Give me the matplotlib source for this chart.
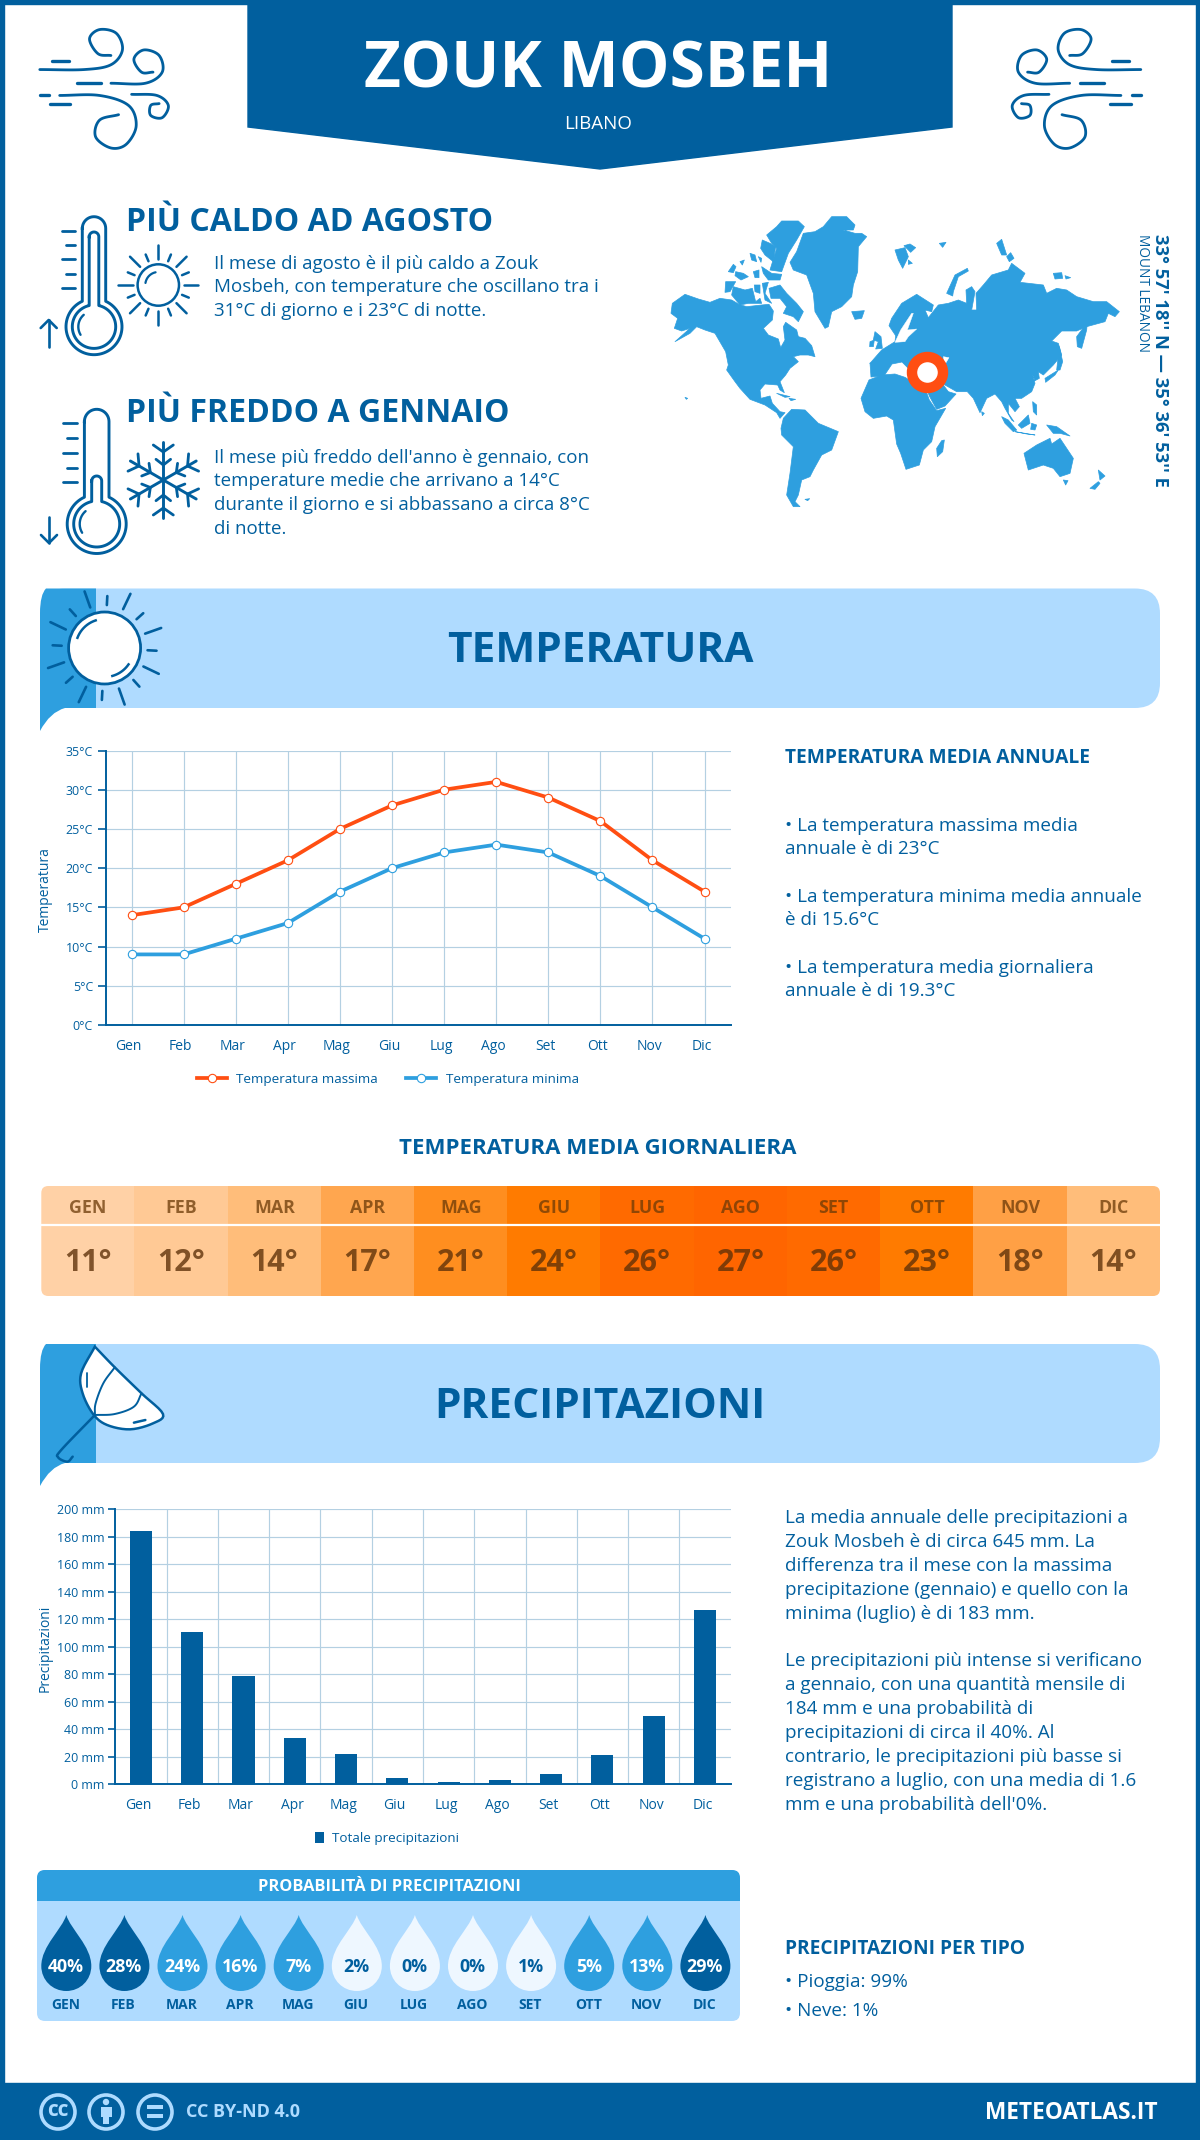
import numpy as np
import matplotlib
matplotlib.use("Agg")
import matplotlib.pyplot as plt
from matplotlib.patches import Polygon, Rectangle, PathPatch, FancyBboxPatch, Circle
from matplotlib.path import Path
from matplotlib.transforms import ScaledTranslation

plt.rcParams['font.family'] = ['Open Sans', 'DejaVu Sans']

# ---------- data ----------
months = ['Gen', 'Feb', 'Mar', 'Apr', 'Mag', 'Giu', 'Lug', 'Ago', 'Set', 'Ott', 'Nov', 'Dic']
temp_max = [14, 15, 18, 21, 25, 28, 30, 31, 29, 26, 21, 17]
temp_min = [9, 9, 11, 13, 17, 20, 22, 23, 22, 19, 15, 11]
temp_daily = [11, 12, 14, 17, 21, 24, 26, 27, 26, 23, 18, 14]
precip = [184, 111, 78.5, 33.5, 22, 4.5, 1.6, 3, 7.5, 21, 49.5, 127]
rain_prob = [40, 28, 24, 16, 7, 2, 0, 0, 1, 5, 13, 29]

heat_colors = ['#FFD1A6', '#FFC995', '#FFBD7A', '#FFA64F', '#FF8E1F', '#FF7B00',
               '#FF6A00', '#FF6500', '#FF6A00', '#FF7B00', '#FFA045', '#FFBD7A']

DARK = '#015F9E'
MID = '#2E9FDF'
LIGHT = '#AFDBFF'
ORANGE = '#FF4E12'
GRID = '#B4D0E2'

W, H = 1200, 2140
fig = plt.figure(figsize=(W / 100, H / 100), dpi=100, facecolor='white')
ov = fig.add_axes([0, 0, 1, 1], zorder=1)
ov.set_xlim(0, W)
ov.set_ylim(H, 0)
ov.axis('off')


def ax_px(x0, y0, x1, y1, z=3):
    a = fig.add_axes([x0 / W, 1 - y1 / H, (x1 - x0) / W, (y1 - y0) / H], zorder=z)
    a.patch.set_alpha(0)
    return a


def T(x, y, s, size, color=DARK, weight='normal', ha='left', va='center', rot=0, z=6, **kw):
    if rot == 0:
        y = y + 0.1 * size
    return ov.text(x, y, s, fontsize=size, color=color, fontweight=weight, ha=ha, va=va,
                   rotation=rot, zorder=z, **kw)


def smooth(pts, n=14):
    p = np.array(pts, float)
    p = np.vstack([2 * p[0] - p[1], p, 2 * p[-1] - p[-2]])
    out = []
    for i in range(1, len(p) - 2):
        t = np.linspace(0, 1, n, endpoint=False)[:, None]
        a, b, c, d = p[i - 1], p[i], p[i + 1], p[i + 2]
        out.append(0.5 * (2 * b + (c - a) * t + (2 * a - 5 * b + 4 * c - d) * t ** 2 + (3 * b - a - 3 * c + d) * t ** 3))
    out.append(p[-2][None, :])
    return np.vstack(out)


def L(pts, lw=1.8, c=DARK, sm=False, z=5):
    a = smooth(pts) if sm else np.array(pts, float)
    ov.plot(a[:, 0], a[:, 1], color=c, lw=lw, solid_capstyle='round', zorder=z)


# ---------- frame ----------
ov.add_patch(Rectangle((0, 0), 3.7, H, color=DARK, zorder=2))
ov.add_patch(Rectangle((W - 3.7, 0), 3.7, H, color=DARK, zorder=2))
ov.add_patch(Rectangle((0, 0), W, 3.7, color=DARK, zorder=2))
ov.add_patch(Rectangle((0, 2083), W, 57, color=DARK, zorder=2))

# ---------- header ----------
ov.add_patch(Polygon([(248, 0), (952, 0), (952, 127), (600, 169), (248, 127)], color=DARK, zorder=2))
T(598, 66, 'ZOUK MOSBEH', 46, 'white', 'bold', 'center')
T(598, 123, 'LIBANO', 13.5, 'white', 'normal', 'center')


def wind(mirror=False):
    def m(pts):
        pts = [(x / 1.307, y / 2.703) for x, y in pts]
        return [(1180.6 - x, y) for x, y in pts] if mirror else pts
    L(m([(52, 188), (110, 188), (145, 175), (160, 135), (152, 90), (130, 80), (117, 105), (128, 145), (145, 150)]), 2, sm=True)
    L(m([(145, 225), (190, 225), (212, 195), (208, 150), (188, 135), (175, 160), (185, 195), (200, 195)]), 2, sm=True)
    L(m([(100, 225), (132, 225)]), 2.4)
    L(m([(68, 166), (90, 166)]), 2.4)
    L(m([(52, 258), (64, 258)]), 2.4)
    L(m([(78, 258), (130, 258), (168, 285), (178, 340), (165, 390), (145, 400), (125, 370), (130, 325), (155, 310)]), 2, sm=True)
    L(m([(65, 282), (92, 282)]), 2.4)
    L(m([(172, 255), (205, 258), (220, 285), (212, 318), (197, 312), (197, 285), (208, 280)]), 2, sm=True)


wind(False)
wind(True)


# ---------- thermometers ----------
def contour(cx, top, by, r, hw):
    a0 = np.arcsin(hw / r)
    th = np.linspace(np.pi, 0, 24)
    phi = np.linspace(a0, 2 * np.pi - a0, 70)
    xs = np.r_[cx + hw * np.cos(th), cx + r * np.sin(phi)]
    ys = np.r_[top + hw - hw * np.sin(th), by - r * np.cos(phi)]
    return np.r_[xs, xs[0]], np.r_[ys, ys[0]]


def thermo(cx, top, by, r, hw, mtop, ihw, ir, ticks, x0, x1, arrow_x, ay0, ay1, up):
    ov.plot(*contour(cx, top, by, r, hw), color=DARK, lw=2.1, zorder=5)
    ov.plot(*contour(cx, mtop, by, ir, ihw), color=DARK, lw=2.1, zorder=5)
    g = np.linspace(2.6, 4.0, 12)
    ov.plot(cx + (ir - 6) * np.cos(g), by + (ir - 6) * np.sin(g), color=DARK, lw=1.7, solid_capstyle='round', zorder=5)
    for i, ty in enumerate(ticks):
        L([(x0 + (3.4 if i % 2 else 0), ty), (x1, ty)], 2.0)
    L([(arrow_x, ay0), (arrow_x, ay1)], 1.9)
    tip, d = (ay0, 8) if up else (ay1, -8)
    L([(arrow_x - 8, tip + d), (arrow_x, tip), (arrow_x + 8, tip + d)], 1.9)


thermo(94, 216.7, 326.7, 28, 11.7, 232, 4.8, 21.7, [230.7, 245, 259.3, 273.7, 287.7], 62.3, 75, 48.7, 320, 346.7, True)
thermo(96.7, 409.3, 524, 29.5, 12.3, 476, 5, 23, [423.3, 438.3, 452.7, 467.7, 482.3], 63.3, 76.7, 49, 516.7, 543, False)

# small sun
ov.add_patch(Circle((158.3, 285), 20.7, fc='white', ec=DARK, lw=1.8, zorder=5))
ov.plot(158.3 + 13 * np.cos(np.linspace(3.3, 4.5, 10)), 285 + 13 * np.sin(np.linspace(3.3, 4.5, 10)), color=DARK, lw=1.6, solid_capstyle='round', zorder=5)
for i, deg in enumerate(np.arange(0, 360, 22.5)):
    a = np.deg2rad(deg)
    r1 = 40 if i % 2 == 0 else 33
    L([(158.3 + 25.7 * np.cos(a), 285 + 25.7 * np.sin(a)), (158.3 + r1 * np.cos(a), 285 + r1 * np.sin(a))], 1.8)

# snowflake
for deg in range(30, 390, 60):
    a = np.deg2rad(deg)
    c, s = np.cos(a), np.sin(a)
    nx, ny = -s, c
    L([(163.3, 480), (163.3 + 38 * c, 480 + 38 * s)], 2.1)
    for d, dt, off in [(28, 35, 10), (15, 20.7, 7.3)]:
        for sg in (-1, 1):
            L([(163.3 + d * c, 480 + d * s), (163.3 + dt * c + sg * off * nx, 480 + dt * s + sg * off * ny)], 2.0)

# top text
T(126, 220, 'PIÙ CALDO AD AGOSTO', 23, DARK, 'bold')
for y, s in zip([263, 286, 310],
                ['Il mese di agosto è il più caldo a Zouk',
                 'Mosbeh, con temperature che oscillano tra i',
                 '31°C di giorno e i 23°C di notte.']):
    T(214.5, y, s, 13.5)
T(126, 411, 'PIÙ FREDDO A GENNAIO', 23, DARK, 'bold')
for y, s in zip([457, 480, 504, 528],
                ["Il mese più freddo dell'anno è gennaio, con",
                 'temperature medie che arrivano a 14°C',
                 'durante il giorno e si abbassano a circa 8°C',
                 'di notte.']):
    T(214.5, y, s, 13.5)


# ---------- world map (outline sketch) ----------
def crop(ox, oy):
    return lambda pts: [(ox + x / 3, oy + y / 3) for x, y in pts]


A, B, C_, D = crop(665, 205), crop(880, 205), crop(665, 370), crop(880, 370)
land = [
    # North America
    A([(22, 295), (60, 268), (100, 282), (135, 292), (165, 280), (200, 285), (222, 298), (245, 305), (290, 300), (312, 298), (325, 318), (322, 345), (295, 370), (310, 390), (340, 402), (347, 428), (360, 405), (355, 365), (362, 352), (395, 375), (400, 395), (420, 400), (440, 422), (450, 455), (430, 450), (405, 450), (385, 455), (400, 470), (375, 490), (362, 510)])
    + C_([(345, 35), (358, 68), (345, 60), (338, 45), (300, 42), (285, 60), (288, 85), (315, 78), (322, 100), (345, 125), (360, 128), (345, 145), (335, 128), (300, 105), (255, 88), (225, 55), (210, 35), (185, 0)])
    + A([(190, 480), (182, 440), (150, 385), (120, 375), (95, 365), (75, 385), (30, 410), (75, 370), (50, 378), (28, 370), (38, 340), (18, 325)]),
    # Arctic islands
    A([(312, 250), (345, 240), (365, 265), (395, 295), (415, 320), (400, 350), (385, 335), (355, 325), (365, 305), (345, 280), (318, 280)]),
    A([(205, 245), (240, 255), (262, 250), (272, 290), (285, 280), (290, 295), (250, 295), (225, 300), (200, 270)]),
    A([(182, 230), (212, 230), (195, 260), (180, 262)]),
    A([(268, 240), (285, 240), (285, 265), (270, 260)]),
    A([(292, 235), (310, 232), (300, 265), (320, 295), (300, 285)]),
    A([(190, 200), (205, 178), (213, 185), (205, 203)]),
    A([(212, 200), (235, 205), (250, 215), (228, 225), (210, 212)]),
    A([(265, 200), (282, 195), (282, 218), (270, 218)]),
    A([(290, 185), (320, 205), (350, 208), (345, 225), (310, 225), (295, 205)]),
    A([(292, 105), (315, 115), (332, 125), (325, 170), (300, 150), (287, 130)]),
    A([(305, 90), (335, 65), (350, 48), (400, 48), (418, 65), (395, 105), (370, 145), (350, 200), (315, 195), (335, 130), (320, 115)]),
    A([(255, 145), (270, 150), (275, 170), (260, 165)]),
    A([(225, 170), (238, 165), (232, 180)]),
    A([(280, 155), (290, 160), (288, 172)]),
    # Greenland, Iceland, British Isles
    A([(475, 65), (500, 35), (545, 35), (570, 60), (565, 75), (535, 75), (570, 85), (590, 85), (605, 95), (580, 125), (578, 200), (565, 240), (560, 275), (530, 305), (500, 320), (490, 365), (480, 370), (450, 320), (445, 265), (425, 210), (385, 195), (375, 172), (395, 140), (415, 85), (450, 80)]),
    A([(560, 320), (598, 317), (590, 340), (570, 343)]),
    A([(630, 380), (648, 395), (652, 430), (632, 432), (640, 410), (625, 405)]),
    A([(615, 410), (628, 405), (625, 425), (614, 425)]),
    # Svalbard and northern islands
    B([(45, 135), (75, 128), (85, 155), (68, 190), (55, 165)]),
    B([(72, 122), (90, 117), (107, 128), (92, 142)]),
    B([(85, 165), (97, 175), (85, 178)]),
    B([(178, 115), (198, 112), (188, 127)]),
    B([(350, 115), (365, 103), (380, 150), (365, 150)]),
    B([(380, 155), (392, 143), (402, 160), (388, 170)]),
    B([(200, 265), (225, 210), (262, 190), (265, 198), (235, 215), (220, 260), (218, 273)]),
    B([(520, 205), (545, 203), (548, 220), (525, 222)]),
    B([(555, 212), (572, 218), (558, 222)]),
    # Eurasia
    A([(615, 475), (650, 435), (690, 410), (692, 392), (672, 362), (680, 340)])
    + B([(65, 295), (110, 268), (160, 300), (155, 320), (135, 315), (145, 338), (175, 300), (205, 295), (235, 285), (260, 295), (258, 255), (275, 245), (285, 260), (275, 315), (290, 315), (288, 265), (310, 240), (335, 210), (385, 195), (395, 175), (435, 205), (420, 232), (490, 240), (500, 265), (530, 250), (560, 255), (590, 275), (640, 290), (680, 290), (718, 320), (705, 335), (685, 325), (675, 350), (620, 365), (590, 378), (545, 378), (515, 408), (535, 415), (545, 450), (520, 480), (490, 510)])
    + D([(475, 5), (478, 25), (465, 32), (458, 15), (465, 40), (455, 65), (425, 85), (405, 85), (418, 110), (405, 125), (385, 100), (385, 130), (402, 155), (395, 150), (375, 115), (365, 95), (345, 72), (320, 85), (300, 128), (280, 85), (262, 65), (230, 65), (195, 45), (150, 10)])
    + [(922, 380), (908, 368), (902, 362), (892, 364), (884, 376), (871, 377), (870, 363)],
    # Africa + Arabia
    C_([(588, 85), (612, 30), (650, 15), (690, 12), (720, 22)])
    + D([(80, 25), (140, 68), (148, 90), (170, 122), (197, 115), (165, 170), (155, 215), (130, 240), (118, 285), (78, 298), (62, 250), (50, 222), (40, 150)])
    + C_([(665, 138), (625, 145), (600, 125)]),
    D([(130, 30), (190, 45), (205, 65), (228, 72), (195, 108), (170, 118), (148, 78)]),
    D([(185, 212), (193, 210), (188, 245), (172, 260), (170, 235)]),
    # East Asia and Oceania
    B([(622, 352), (620, 375), (605, 430), (592, 425), (590, 395)]),
    D([(535, 0), (495, 25), (497, 37), (525, 15)]),
    B([(538, 425), (548, 470), (540, 495), (530, 495)]),
    D([(365, 140), (385, 150), (410, 180), (400, 185), (375, 160)]),
    D([(405, 185), (465, 195), (440, 192)]),
    D([(415, 165), (445, 135), (450, 160), (425, 175)]),
    D([(455, 160), (470, 165), (465, 180), (452, 178)]),
    D([(500, 165), (530, 170), (570, 198), (540, 190), (520, 190)]),
    D([(458, 95), (470, 105), (470, 135), (460, 125)]),
    D([(305, 125), (313, 130), (307, 137)]),
    D([(432, 250), (470, 225), (510, 205), (515, 222), (540, 205), (580, 265), (570, 310), (540, 320), (520, 295), (490, 285), (445, 300)]),
    D([(550, 330), (564, 332), (557, 345)]),
    D([(655, 300), (675, 318), (660, 330)]),
    D([(630, 355), (655, 335), (660, 340), (645, 358)]),
    # South America and small islands
    C_([(348, 175), (355, 145), (380, 118), (420, 120), (460, 160), (520, 185), (500, 240), (470, 255), (445, 300), (435, 320), (410, 330), (400, 375), (390, 395), (405, 410), (385, 410), (365, 375), (375, 310), (385, 230), (350, 195)]),
    C_([(420, 388), (434, 386), (428, 392)]),
    C_([(335, 70), (375, 80), (360, 82)]),
    C_([(372, 85), (392, 88), (378, 92)]),
    C_([(60, 82), (68, 85), (64, 88)]),
]
sea = [
    B([(95, 325), (100, 325), (82, 375), (110, 372), (85, 395), (75, 410), (45, 412), (62, 375)]),
    B([(190, 455), (207, 458), (195, 478), (202, 495), (195, 500)]),
]
for poly in land:
    ov.add_patch(Polygon(poly, fc=MID, ec=MID, lw=0.5, joinstyle='round', zorder=2))
for poly in sea:
    ov.add_patch(Polygon(poly, fc='white', ec='white', lw=0.3, zorder=3))
ov.add_patch(Circle((927.5, 372.5), 15.5, fc='white', ec=ORANGE, lw=7.5, zorder=4))
T(1160, 360, "33° 57' 18'' N — 35° 36' 53'' E", 13.2, DARK, 'bold', 'center', 'center', rot=-90)
T(1142.5, 293, 'MOUNT LEBANON', 9.8, DARK, 'normal', 'center', 'center', rot=-90)


# ---------- banners ----------
def banner(y0, y1, tail):
    r = 25
    ov.add_patch(FancyBboxPatch((40, y0), 1120, y1 - y0, boxstyle='round,pad=0,rounding_size=%d' % r,
                                fc=LIGHT, ec='none', zorder=2))
    v = [(40, y0 + r), (40, y0 + 6), (46, y0), (40 + r, y0), (96, y0), (96, y1), (40 + r, y1), (50, y1 + 4), (40, tail), (40, y0 + r)]
    c = [Path.MOVETO, Path.CURVE3, Path.CURVE3, Path.LINETO, Path.LINETO, Path.LINETO, Path.LINETO, Path.CURVE3, Path.CURVE3, Path.CLOSEPOLY]
    ov.add_patch(PathPatch(Path(v, c), fc=MID, ec='none', zorder=3))


banner(588.5, 708, 731)
banner(1344, 1463, 1486)
T(600, 648, 'TEMPERATURA', 30.5, DARK, 'bold', 'center')
T(600, 1404, 'PRECIPITAZIONI', 30.5, DARK, 'bold', 'center')

# banner sun
ov.add_patch(Circle((104.6, 648), 36, fc='white', ec=DARK, lw=2, zorder=5))
ang = np.linspace(3.5, 4.4, 12)
ov.plot(104.6 + 29 * np.cos(ang), 648 + 29 * np.sin(ang), color=DARK, lw=1.8, zorder=6)
ang = np.linspace(0.6, 1.3, 12)
ov.plot(104.6 + 29 * np.cos(ang), 648 + 29 * np.sin(ang), color=DARK, lw=1.8, zorder=6)
for i, deg in enumerate(np.arange(0, 360, 22.5)):
    a = np.deg2rad(deg + 3)
    r0, r1 = (43, 60) if i % 2 == 1 else (43, 52)
    L([(104.6 + r0 * np.cos(a), 648 + r0 * np.sin(a)), (104.6 + r1 * np.cos(a), 648 + r1 * np.sin(a))], 1.9)


# umbrella
def up(pts):
    return [(x / 1.307, y / 3 + 1120) for x, y in pts]


ub = smooth(up([(124, 680), (150, 742), (185, 820), (213, 882), (200, 910), (170, 928), (140, 915), (122, 883), (108, 820), (106, 760), (124, 680)]), 6)
ov.add_patch(Polygon(ub, fc='white', ec=DARK, lw=1.8, zorder=5))
L(up([(150, 742), (135, 790), (125, 850), (124, 885)]), 1.4, sm=True, z=6)
L(up([(185, 820), (175, 860), (150, 882), (124, 885)]), 1.4, sm=True, z=6)
L(up([(124, 885), (80, 990), (76, 1012), (88, 1025), (95, 1010)]), 1.8, sm=True)
L(up([(114, 760), (114, 800)]), 1.3, z=6)
L(up([(175, 908), (190, 900)]), 1.8, z=6)

# ---------- temperature chart ----------
ax = ax_px(105.6, 750.5, 730.6, 1025)
x = np.arange(12)
l1, = ax.plot(x, temp_max, color=ORANGE, lw=2.7, marker='o', ms=6, mfc='white', mec=ORANGE, mew=0.8, label='Temperatura massima', clip_on=False, zorder=4)
l2, = ax.plot(x, temp_min, color=MID, lw=2.7, marker='o', ms=6, mfc='white', mec=MID, mew=0.8, label='Temperatura minima', clip_on=False, zorder=4)
ax.set_xlim(-0.5, 11.5)
ax.set_ylim(0, 35)
ax.set_yticks(range(0, 36, 5))
ax.set_yticklabels(['%d°C' % v for v in range(0, 36, 5)])
ax.set_xticks(x)
ax.set_xticklabels(months)
ax.set_ylabel('Temperatura', fontsize=10, color=DARK)
ax.yaxis.set_label_coords((53 - 105.6) / 625, 0.495)
ax.grid(True, color=GRID, lw=0.85)
ax.set_axisbelow(True)
for s in ('top', 'right'):
    ax.spines[s].set_visible(False)
for s in ('left', 'bottom'):
    ax.spines[s].set_color(DARK)
    ax.spines[s].set_linewidth(1.4)
ax.tick_params(axis='y', length=6, width=1.2, color=DARK, labelcolor=DARK, labelsize=8.9, pad=3)
ax.tick_params(axis='x', length=0, labelcolor=DARK, labelsize=10, pad=10)
for lb in ax.get_xticklabels():
    lb.set_transform(lb.get_transform() + ScaledTranslation(-0.03, 0, fig.dpi_scale_trans))
ax.legend(handles=[l1, l2], loc='center', bbox_to_anchor=(388 / W, 1 - 1079.6 / H), bbox_transform=fig.transFigure,
          ncol=2, frameon=False, numpoints=1, handlelength=2.2, handletextpad=0.7, columnspacing=2.1,
          labelcolor=DARK, prop={'size': 9.7})

# right text temperature
T(785, 757, 'TEMPERATURA MEDIA ANNUALE', 13.8, DARK, 'bold')
for y, s in zip([825, 848, 896, 919, 967, 990],
                ['• La temperatura massima media', 'annuale è di 23°C',
                 '• La temperatura minima media annuale', 'è di 15.6°C',
                 '• La temperatura media giornaliera', 'annuale è di 19.3°C']):
    T(785, y, s, 13.6)

# ---------- daily temperature strip ----------
T(598, 1147, 'TEMPERATURA MEDIA GIORNALIERA', 16, DARK, 'bold', 'center')
hx = ax_px(41.3, 1186, 1160, 1296)
hx.set_xlim(-0.5, 11.5)
hx.set_ylim(0, 1)
hx.axis('off')
bars = hx.bar(x, [1] * 12, width=1.005, color=heat_colors, linewidth=0)
clip = FancyBboxPatch((41.3, 1186), 1118.7, 110, boxstyle='round,pad=0,rounding_size=7', transform=ov.transData, fc='none', ec='none')
ov.add_patch(clip)
for b in bars:
    b.set_clip_path(clip)
hx.axhline((1296 - 1225) / 110, color='white', lw=1.6)
for i, (m, v) in enumerate(zip(months, temp_daily)):
    hx.text(i, (1296 - 1208) / 110, m.upper(), fontsize=12.8, fontweight='bold', color='#6B3A08', alpha=0.75, ha='center', va='center')
    hx.text(i, (1296 - 1263) / 110, '%d°' % v, fontsize=22, fontweight='bold', color='#5C3008', alpha=0.78, ha='center', va='center')

# ---------- precipitation chart ----------
px = ax_px(115.3, 1509.3, 730.6, 1784.3)
bb = px.bar(x, precip, width=0.43, color=DARK, label='Totale precipitazioni', zorder=3)
px.set_xlim(-0.5, 11.5)
px.set_ylim(0, 200)
px.set_yticks(range(0, 201, 20))
px.set_yticklabels(['%d mm' % v for v in range(0, 201, 20)])
px.set_xticks(x)
px.set_xticklabels(months)
px.set_xticks(np.arange(0.5, 11.5, 1), minor=True)
px.grid(True, axis='y', color=GRID, lw=0.85)
px.grid(True, axis='x', which='minor', color=GRID, lw=0.85)
px.grid(False, axis='x', which='major')
px.set_axisbelow(True)
px.set_ylabel('Precipitazioni', fontsize=10, color=DARK)
px.yaxis.set_label_coords((53 - 115.3) / 615.3, 0.496)
for s in ('top', 'right'):
    px.spines[s].set_visible(False)
for s in ('left', 'bottom'):
    px.spines[s].set_color(DARK)
    px.spines[s].set_linewidth(1.4)
px.tick_params(axis='y', length=5, width=1.2, color=DARK, labelcolor=DARK, labelsize=8.9, pad=3)
px.tick_params(axis='x', which='major', length=0, labelcolor=DARK, labelsize=10, pad=10)
px.tick_params(axis='x', which='minor', length=0)
for lb in px.get_xticklabels():
    lb.set_transform(lb.get_transform() + ScaledTranslation(-0.025, 0, fig.dpi_scale_trans))
px.legend(handles=[bb], loc='center', bbox_to_anchor=(387 / W, 1 - 1838.7 / H), bbox_transform=fig.transFigure,
          frameon=False, handlelength=0.6, handleheight=0.8, handletextpad=0.6, labelcolor=DARK, prop={'size': 9.7})

# right text precip
para = [(1517, 'La media annuale delle precipitazioni a'), (1541, 'Zouk Mosbeh è di circa 645 mm. La'),
        (1565, 'differenza tra il mese con la massima'), (1589, 'precipitazione (gennaio) e quello con la'),
        (1613, 'minima (luglio) è di 183 mm.'),
        (1660, 'Le precipitazioni più intense si verificano'), (1684, 'a gennaio, con una quantità mensile di'),
        (1708, '184 mm e una probabilità di'), (1732, 'precipitazioni di circa il 40%. Al'),
        (1756, 'contrario, le precipitazioni più basse si'), (1780, 'registrano a luglio, con una media di 1.6'),
        (1804, "mm e una probabilità dell'0%.")]
for y, s in para:
    T(785, y, s, 13.6)
T(785, 1948, 'PRECIPITAZIONI PER TIPO', 13.8, DARK, 'bold')
T(785, 1981, '• Pioggia: 99%', 13.6)
T(785, 2010, '• Neve: 1%', 13.6)

# ---------- probability panel ----------
ov.add_patch(FancyBboxPatch((37, 1870), 703, 151, boxstyle='round,pad=0,rounding_size=8', fc=LIGHT, ec='none', zorder=2))
ov.add_patch(FancyBboxPatch((37, 1870), 703, 40, boxstyle='round,pad=0,rounding_size=8', fc=MID, ec='none', zorder=3))
ov.add_patch(Rectangle((37, 1890), 703, 11, fc=MID, ec='none', zorder=3))
ov.add_patch(Rectangle((37, 1901), 703, 11, fc=LIGHT, ec='none', zorder=3))
T(389, 1886, 'PROBABILITÀ DI PRECIPITAZIONI', 11.8, 'white', 'bold', 'center')


def drop(cx, fc):
    t, b, w = 1915, 1991, 25
    cy = b - w
    v = [(cx, t), (cx + 4, t + 14), (cx + w, cy - 20), (cx + w, cy),
         (cx + w, cy + 14), (cx + 14, b), (cx, b),
         (cx - 14, b), (cx - w, cy + 14), (cx - w, cy),
         (cx - w, cy - 20), (cx - 4, t + 14), (cx, t), (cx, t)]
    c = [Path.MOVETO] + [Path.CURVE4] * 12 + [Path.CLOSEPOLY]
    ov.add_patch(PathPatch(Path(v, c), fc=fc, ec='none', zorder=4))


for i, (p, m) in enumerate(zip(rain_prob, months)):
    cx = 66.3 + i * 58.1
    fc = DARK if p >= 28 else (MID if p >= 5 else '#EEF7FF')
    drop(cx, fc)
    T(cx - 0.5, 1966, '%d%%' % p, 12.8, 'white' if p >= 5 else DARK, 'bold', 'center')
    T(cx - 1, 2004, m.upper(), 10, DARK, 'bold', 'center')

# ---------- footer ----------
FL = '#AEDBFF'
for cx in (58, 106, 155):
    ov.add_patch(Circle((cx, 2112), 17, fc='none', ec=FL, lw=2.6, zorder=5))
T(58, 2109, 'cc', 15, FL, 'bold', 'center')
ov.add_patch(Circle((106, 2102), 3.2, fc=FL, ec='none', zorder=6))
ov.add_patch(Rectangle((100.5, 2106.5), 11, 10, fc=FL, ec='none', zorder=6))
ov.add_patch(Rectangle((103, 2116), 6, 8, fc=FL, ec='none', zorder=6))
ov.add_patch(Rectangle((147, 2105), 16, 4, fc=FL, ec='none', zorder=6))
ov.add_patch(Rectangle((147, 2114), 16, 4, fc=FL, ec='none', zorder=6))
T(186, 2111, 'CC BY-ND 4.0', 13, FL, 'bold')
T(1158, 2111, 'METEOATLAS.IT', 16.3, 'white', 'bold', 'right')

fig.savefig('out.png', dpi=100, facecolor='white')
